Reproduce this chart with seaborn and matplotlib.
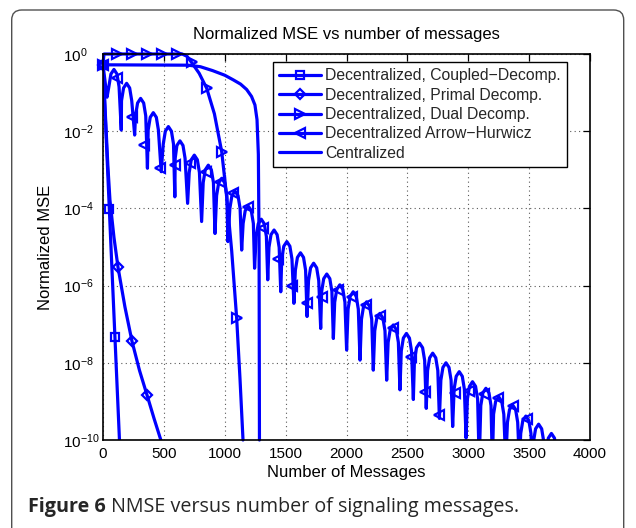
import numpy as np
import pandas as pd
import matplotlib
matplotlib.use("Agg")
import matplotlib.pyplot as plt
import seaborn as sns
from matplotlib.lines import Line2D
from matplotlib.patches import FancyBboxPatch
from matplotlib.ticker import FixedLocator, NullLocator, LogFormatterMathtext

# ---------------- data (y stored as log10 of NMSE) ----------------
coupled_x = [0, 52, 98, 138]
coupled_exp = [-0.28, -4.02, -7.33, -10.2]
coupled_mx = [0, 52, 98]
coupled_mexp = [-0.28, -4.02, -7.33]

primal_x = [0, 20, 40, 57, 90, 123, 180, 238, 300, 361, 420, 480]
primal_exp = [-0.28, -1.6, -2.9, -3.78, -4.75, -5.52, -6.55, -7.44, -8.2, -8.83, -9.45, -10.05]
primal_mx = [0, 123, 238, 361]
primal_mexp = [-0.28, -5.52, -7.44, -8.83]

dual_x = [0, 8, 650, 690, 728, 790, 852, 915, 975, 1016, 1057, 1098, 1125, 1150]
dual_exp = [-0.28, 0.0, 0.0, -0.06, -0.22, -0.5, -0.89, -1.55, -2.53, -3.7, -5.1, -6.85, -8.4, -10.0]
dual_mx = [0, 114, 236, 359, 482, 605, 728, 852, 975, 1098]
dual_mexp = [-0.28, 0, 0, 0, 0, 0, -0.22, -0.89, -2.53, -6.85]

# Arrow-Hurwicz, one row per arc: flank, shoulder, peak, shoulder, flank, trough
ah_x_rows = [
    [0, 33],
    [48, 65, 90, 115, 132, 150],
    [152, 169, 194, 219, 236, 260],
    [267, 284, 309, 334, 351, 365],
    [371, 388, 413, 438, 455, 478],
    [495, 512, 537, 562, 579, 590],
    [593, 607, 632, 657, 674, 695],
    [708, 725, 750, 775, 792, 810],
    [823, 840, 865, 890, 907, 920],
    [933, 950, 975, 1000, 1017, 1026],
    [1042, 1059, 1084, 1109, 1126, 1139],
    [1151, 1168, 1193, 1218, 1235, 1245],
    [1258, 1275, 1300, 1325, 1342, 1353],
    [1363, 1380, 1405, 1430, 1447, 1460],
    [1468, 1485, 1510, 1535, 1552, 1568],
    [1580, 1597, 1622, 1647, 1664, 1676],
    [1688, 1705, 1730, 1755, 1772, 1788],
    [1796, 1813, 1838, 1863, 1880, 1892],
    [1903, 1920, 1945, 1970, 1987, 2001],
    [2013, 2030, 2055, 2080, 2097, 2111],
    [2123, 2140, 2165, 2190, 2207, 2220],
    [2232, 2249, 2274, 2299, 2316, 2330],
    [2342, 2359, 2384, 2409, 2426, 2439],
    [2450, 2467, 2492, 2517, 2534, 2549],
    [2558, 2575, 2600, 2625, 2642, 2655],
    [2666, 2683, 2708, 2733, 2750, 2763],
    [2775, 2792, 2817, 2842, 2859, 2872],
    [2884, 2901, 2926, 2951, 2968, 2982],
    [2993, 3010, 3035, 3060, 3077, 3090],
    [3103, 3120, 3145, 3170, 3187, 3198],
    [3208, 3225, 3250, 3275, 3292, 3308],
    [3322, 3339, 3364, 3389, 3406, 3420],
    [3431, 3448, 3473, 3498, 3515, 3525],
    [3536, 3553, 3578, 3603, 3620, 3630],
    [3641, 3658, 3683, 3708, 3725, 3735],
]
ah_exp_rows = [
    [-0.28, -1.12],
    [-0.85, -0.52, -0.40, -0.52, -0.85, -1.97],
    [-1.21, -0.88, -0.76, -0.88, -1.21, -2.10],
    [-1.60, -1.27, -1.15, -1.27, -1.60, -2.96],
    [-1.97, -1.64, -1.52, -1.64, -1.97, -3.05],
    [-2.33, -2.00, -1.88, -2.00, -2.33, -3.70],
    [-2.70, -2.37, -2.25, -2.37, -2.70, -3.87],
    [-3.07, -2.74, -2.62, -2.74, -3.07, -4.34],
    [-3.33, -3.00, -2.88, -3.00, -3.33, -4.65],
    [-3.67, -3.34, -3.22, -3.34, -3.67, -4.86],
    [-4.00, -3.67, -3.55, -3.67, -4.00, -5.08],
    [-4.39, -4.06, -3.94, -4.06, -4.39, -5.55],
    [-4.73, -4.40, -4.28, -4.40, -4.73, -5.85],
    [-5.01, -4.68, -4.56, -4.68, -5.01, -6.16],
    [-5.31, -4.98, -4.86, -4.98, -5.31, -6.46],
    [-5.60, -5.27, -5.15, -5.27, -5.60, -6.80],
    [-5.87, -5.54, -5.42, -5.54, -5.87, -7.11],
    [-6.15, -5.82, -5.70, -5.82, -6.15, -7.37],
    [-6.43, -6.10, -5.98, -6.10, -6.43, -7.67],
    [-6.61, -6.28, -6.16, -6.28, -6.61, -7.93],
    [-6.87, -6.54, -6.42, -6.54, -6.87, -8.19],
    [-7.17, -6.84, -6.72, -6.84, -7.17, -8.45],
    [-7.47, -7.14, -7.02, -7.14, -7.47, -8.70],
    [-7.69, -7.36, -7.24, -7.36, -7.69, -8.95],
    [-7.94, -7.61, -7.49, -7.61, -7.94, -9.18],
    [-8.20, -7.87, -7.75, -7.87, -8.20, -9.44],
    [-8.45, -8.12, -8.00, -8.12, -8.45, -9.65],
    [-8.68, -8.35, -8.23, -8.35, -8.68, -9.95],
    [-8.94, -8.61, -8.49, -8.61, -8.94, -10.6],
    [-9.11, -8.78, -8.66, -8.78, -9.11, -10.6],
    [-9.33, -9.00, -8.88, -9.00, -9.33, -10.6],
    [-9.54, -9.21, -9.09, -9.21, -9.54, -10.6],
    [-9.83, -9.50, -9.38, -9.50, -9.83, -10.6],
    [-10.04, -9.71, -9.59, -9.71, -10.04, -10.6],
    [-10.28, -9.95, -9.83, -9.95, -10.28, -10.6],
]
ah_x = [v for row in ah_x_rows for v in row]
ah_exp = [v for row in ah_exp_rows for v in row]
ah_mx = [0, 112, 235, 337, 468, 591, 714, 846, 961, 1070, 1193, 1317, 1440, 1549,
         1673, 1796, 1933, 2043, 2160, 2275, 2384, 2527, 2645, 2757, 2888, 3008,
         3128, 3247, 3370, 3479]
ah_mexp = [-0.28, -0.61, -1.62, -2.36, -2.96, -2.88, -2.83, -3.05, -3.31, -3.61, -3.96,
           -4.5, -5.32, -6.0, -6.46, -6.3, -6.11, -6.29, -6.5, -6.8, -7.1, -7.84, -8.75,
           -9.35, -8.79, -8.72, -8.80, -8.92, -9.12, -9.45]

cent_x = [0, 700, 800, 900, 1000, 1070, 1130, 1180, 1220, 1248, 1265, 1276, 1282, 1285]
cent_exp = [-0.28, -0.29, -0.33, -0.43, -0.55, -0.67, -0.78, -0.92, -1.1, -1.32, -1.7,
            -2.6, -5.0, -10.0]

labels = ["Decentralized, Coupled\u2212Decomp.", "Decentralized, Primal Decomp.",
          "Decentralized, Dual Decomp.", "Decentralized Arrow\u2212Hurwicz", "Centralized"]
xticks = [0, 500, 1000, 1500, 2000, 2500, 3000, 3500, 4000]
yticks_exp = [-10, -8, -6, -4, -2, 0]

# ---------------- style ----------------
sns.set_theme(style="white")
plt.rcParams["font.family"] = ["Liberation Sans", "DejaVu Sans"]
plt.rcParams["mathtext.default"] = "regular"
BLUE = "#0000ff"
LW = 2.3
FS = 12
TICK_FS = 11
LEG_FS = 11.3

fig = plt.figure(figsize=(6.36, 5.28), dpi=100)
W, H = 636, 528
ax = fig.add_axes([103 / W, 1 - 440 / H, 487 / W, 386 / H])

series = [
    (coupled_x, coupled_exp, coupled_mx, coupled_mexp, "s", 6.0, True),
    (primal_x, primal_exp, primal_mx, primal_mexp, "D", 5.5, True),
    (dual_x, dual_exp, dual_mx, dual_mexp, ">", 7.5, False),
    (ah_x, ah_exp, ah_mx, ah_mexp, "<", 7.5, True),
]
for x, e, mx, me, mk, ms, clip in series:
    df = pd.DataFrame({"x": x, "y": np.power(10.0, e)})
    sns.lineplot(data=df, x="x", y="y", ax=ax, estimator=None, sort=False,
                 color=BLUE, lw=LW, clip_on=clip)
    dm = pd.DataFrame({"x": mx, "y": np.power(10.0, me)})
    sns.lineplot(data=dm, x="x", y="y", ax=ax, estimator=None, sort=False,
                 color=BLUE, linestyle="", marker=mk, markersize=ms,
                 markerfacecolor="none", markeredgecolor=BLUE, markeredgewidth=1.6,
                 clip_on=False)

dfc = pd.DataFrame({"x": cent_x, "y": np.power(10.0, cent_exp)})
sns.lineplot(data=dfc, x="x", y="y", ax=ax, estimator=None, sort=False,
             color=BLUE, lw=LW, clip_on=False)

ax.set_yscale("log")
ax.set_xlim(0, 4000)
ax.set_ylim(1e-10, 1e0)
ax.xaxis.set_major_locator(FixedLocator(xticks))
ax.yaxis.set_major_locator(FixedLocator([10.0 ** k for k in yticks_exp]))
ax.yaxis.set_minor_locator(NullLocator())
ax.yaxis.set_major_formatter(LogFormatterMathtext())
ax.grid(True, which="major", color="0.35", linestyle=(0, (1, 3)), lw=0.8)
ax.tick_params(which="both", direction="in", top=True, right=True, length=5,
               width=0.9, color="black", labelsize=TICK_FS, labelcolor="black")
ax.tick_params(axis="x", pad=5)
ax.tick_params(axis="y", pad=29)
for lab in ax.get_yticklabels():
    lab.set_horizontalalignment("left")
for sp in ax.spines.values():
    sp.set_visible(True)
    sp.set_color("black")
    sp.set_linewidth(1.2)

ax.set_xlabel("Number of Messages", fontsize=FS, color="black")
ax.set_ylabel("Normalized MSE", fontsize=FS, color="black")
ax.xaxis.label.set_verticalalignment("center")
ax.xaxis.set_label_coords(0.5, (440 - 472) / 386)
ax.yaxis.label.set_verticalalignment("center")
ax.yaxis.set_label_coords((46 - 103) / 487, 0.5)

fig.text((103 + 590) / 2 / W, 1 - 35 / H, "Normalized MSE vs number of messages",
         ha="center", va="center", fontsize=FS, color="black")

handles = [
    Line2D([], [], color=BLUE, lw=LW, marker="s", ms=6, mfc="none", mec=BLUE, mew=1.6),
    Line2D([], [], color=BLUE, lw=LW, marker="D", ms=5.5, mfc="none", mec=BLUE, mew=1.6),
    Line2D([], [], color=BLUE, lw=LW, marker=">", ms=7.5, mfc="none", mec=BLUE, mew=1.6),
    Line2D([], [], color=BLUE, lw=LW, marker="<", ms=7.5, mfc="none", mec=BLUE, mew=1.6),
    Line2D([], [], color=BLUE, lw=LW),
]
leg = ax.legend(handles, labels, loc="upper right",
                bbox_to_anchor=((567 - 103) / 487, 1 - 8 / 386), borderaxespad=0,
                fontsize=LEG_FS, frameon=True, fancybox=False, framealpha=1,
                edgecolor="black", handlelength=2.7, handletextpad=0.25,
                labelspacing=0.28, borderpad=0.4, numpoints=1)
leg.get_frame().set_linewidth(1.0)

# caption and frame
CAP_FS = 14.2
t1 = fig.text(28 / W, 1 - 507 / H, "Figure 6", fontsize=CAP_FS, fontweight="bold",
              family=["Open Sans", "DejaVu Sans"], va="center", ha="left")
fig.canvas.draw()
bb = t1.get_window_extent()
x1 = fig.transFigure.inverted().transform((bb.x1, bb.y0))[0]
fig.text(x1, 1 - 507 / H, " NMSE versus number of signaling messages.", fontsize=CAP_FS,
         family=["Open Sans", "DejaVu Sans"], va="center", ha="left")

frame = FancyBboxPatch((0.117, -0.3), 6.12, 5.18 + 0.3,
                       boxstyle="round,pad=0,rounding_size=0.1",
                       transform=fig.dpi_scale_trans, fill=False,
                       edgecolor="#505050", lw=1.0)
fig.patches.append(frame)

fig.savefig("out.png", dpi=100)
